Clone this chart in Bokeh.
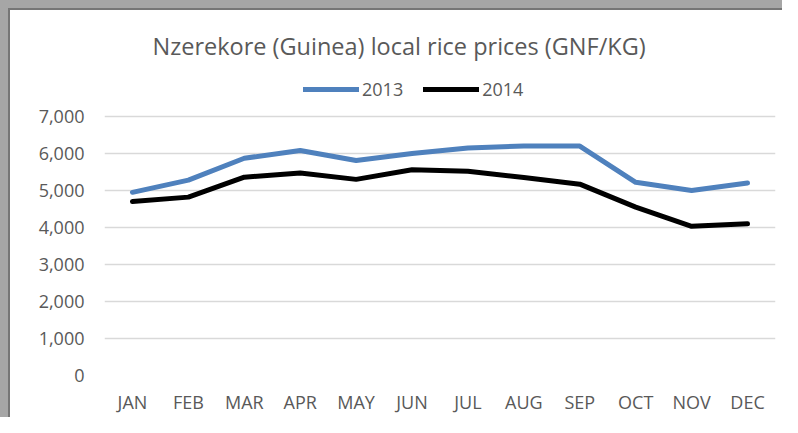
from bokeh.plotting import figure
from bokeh.models import ColumnDataSource, Legend, LegendItem, NumeralTickFormatter, FixedTicker, Range1d
from bokeh.embed import file_html
from bokeh.resources import INLINE

months = ["JAN", "FEB", "MAR", "APR", "MAY", "JUN", "JUL", "AUG", "SEP", "OCT", "NOV", "DEC"]
prices_2013 = [4950, 5280, 5870, 6080, 5810, 6000, 6150, 6200, 6200, 5220, 5000, 5200]
prices_2014 = [4700, 4820, 5360, 5470, 5300, 5560, 5520, 5350, 5170, 4550, 4030, 4100]
y_ticks = [0, 1000, 2000, 3000, 4000, 5000, 6000, 7000]

src = ColumnDataSource(dict(m=months, a=prices_2013, b=prices_2014))

FONT = "Open Sans"
TXT = "#595959"

# frame extends above the 7,000 gridline so the legend can sit inside it
p = figure(width=782, height=417, x_range=months, y_range=Range1d(0, 8350),
           output_backend="svg", toolbar_location=None,
           title="Nzerekore (Guinea) local rice prices (GNF/KG)",
           min_border_left=104, min_border_right=7, min_border_top=66, min_border_bottom=42)

p.title.align = "left"
p.title.offset = 48
p.title.text_font = FONT
p.title.text_font_size = "23.5px"
p.title.text_font_style = "normal"
p.title.text_color = TXT
p.title.standoff = 9

p.outline_line_color = None
p.background_fill_color = "white"
p.border_fill_alpha = 0
p.styles = {"background-color": "white",
            "box-shadow": "inset 8px 8px 0 #a6a6a6, inset 10px 10px 0 #767676"}

p.xgrid.grid_line_color = None
p.ygrid.grid_line_color = "#d9d9d9"
p.ygrid.grid_line_width = 1.5
p.yaxis.ticker = FixedTicker(ticks=y_ticks)
p.yaxis.formatter = NumeralTickFormatter(format="0,0")

for ax in (p.xaxis[0], p.yaxis[0]):
    ax.axis_line_color = None
    ax.major_tick_line_color = None
    ax.minor_tick_line_color = None
    ax.major_tick_out = 0
    ax.major_tick_in = 0
    ax.major_label_text_font = FONT
    ax.major_label_text_font_size = "18px"
    ax.major_label_text_color = TXT
p.yaxis.major_label_standoff = 20
p.xaxis.major_label_standoff = 14
p.x_range.range_padding = 0

r1 = p.line("m", "a", source=src, line_color="#4f81bd", line_width=5, line_join="round", line_cap="round")
r2 = p.line("m", "b", source=src, line_color="#000000", line_width=5, line_join="round", line_cap="round")

legend = Legend(items=[LegendItem(label="2013", renderers=[r1]), LegendItem(label="2014", renderers=[r2])],
                orientation="horizontal", location=(199, 274),
                label_text_font=FONT, label_text_font_size="18px", label_text_color=TXT,
                glyph_width=56, glyph_height=20, label_standoff=3, spacing=20,
                padding=4, margin=0, border_line_color=None, background_fill_alpha=0)
p.add_layout(legend)

open("out.html", "w").write(file_html(p, INLINE))
